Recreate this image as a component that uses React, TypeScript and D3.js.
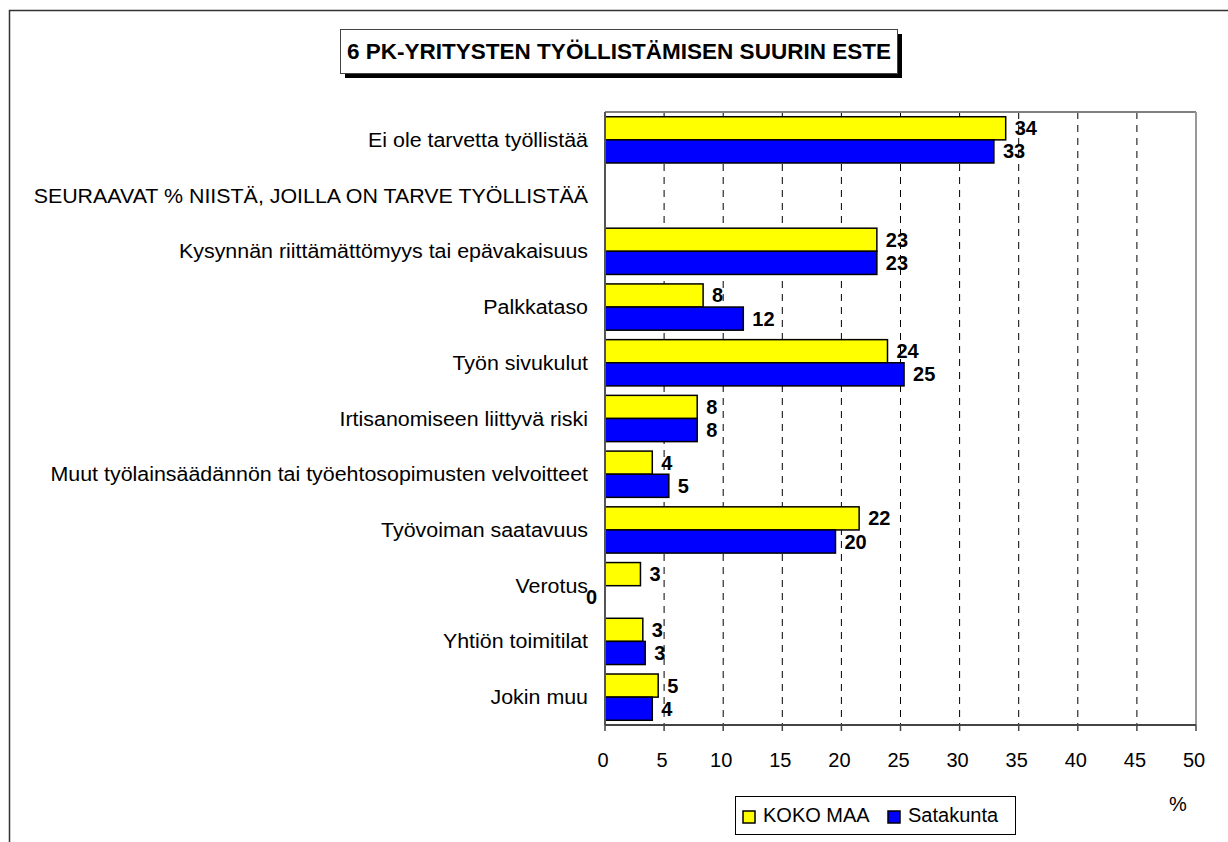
import React from "react";
import * as d3 from "d3";

const categories = [
  "Ei ole tarvetta työllistää",
  "SEURAAVAT % NIISTÄ, JOILLA ON TARVE TYÖLLISTÄÄ",
  "Kysynnän riittämättömyys tai epävakaisuus",
  "Palkkataso",
  "Työn sivukulut",
  "Irtisanomiseen liittyvä riski",
  "Muut työlainsäädännön tai työehtosopimusten velvoitteet",
  "Työvoiman saatavuus",
  "Verotus",
  "Yhtiön toimitilat",
  "Jokin muu",
];
const kokoMaa: (number | null)[] = [33.9, null, 23.0, 8.3, 23.9, 7.8, 4.0, 21.5, 3.0, 3.2, 4.5];
const satakunta: (number | null)[] = [32.9, null, 23.0, 11.7, 25.3, 7.8, 5.4, 19.5, 0, 3.4, 4.0];
const seriesNames = ["KOKO MAA", "Satakunta"];
const seriesColors = ["#FFFF00", "#0000FF"];
const xTicks = [0, 5, 10, 15, 20, 25, 30, 35, 40, 45, 50];
const title = "6 PK-YRITYSTEN TYÖLLISTÄMISEN SUURIN ESTE";
const unitLabel = "%";

const FONT = "'Liberation Sans', Arial, sans-serif";

export default function App() {
  const W = 1228, H = 842;
  const left = 605, right = 1196, top = 112, bottom = 725;
  const x = d3.scaleLinear().domain([0, 50]).range([left, right]);
  const y = d3.scaleBand<string>().domain(categories).range([top, bottom]).padding(0);
  const bw = y.bandwidth();
  const barH = bw * 0.415;
  const series = [kokoMaa, satakunta];

  return (
    <svg width={W} height={H} style={{ position: "absolute", left: 0, top: 0, background: "#fff" }} fontFamily={FONT}>
      {/* outer chart frame */}
      <rect x={9.5} y={10.5} width={W + 20} height={H + 20} fill="#fff" stroke="#333" strokeWidth={1.5} />

      {/* title */}
      <rect x={345} y={34} width={557} height={44} fill="#000" />
      <rect x={340.5} y={29.5} width={557} height={44} fill="#fff" stroke="#444" strokeWidth={1} />
      <text x={619} y={59} textAnchor="middle" fontSize={22.5} fontWeight="bold" fill="#000">{title}</text>

      {/* gridlines */}
      {xTicks.filter(t => t > 0 && t < 50).map(t => (
        <line key={"g" + t} x1={x(t)} x2={x(t)} y1={top} y2={bottom} stroke="#000" strokeWidth={1} strokeDasharray="7,6" />
      ))}
      {/* plot border top & right */}
      <line x1={left} x2={right} y1={top} y2={top} stroke="#808080" strokeWidth={2} />
      <line x1={right} x2={right} y1={top} y2={bottom} stroke="#999" strokeWidth={2} />

      {/* bars */}
      {categories.map((c, i) => (
        <g key={c}>
          {series.map((s, k) => {
            const v = s[i];
            if (v === null) return null;
            const by = (y(c) as number) + bw / 2 - barH + k * barH;
            return (
              <rect key={k} x={x(0)} y={by} width={x(v) - x(0)} height={barH}
                fill={seriesColors[k]} stroke="#000" strokeWidth={1.5} />
            );
          })}
        </g>
      ))}

      {/* axes */}
      <line x1={left} x2={left} y1={top} y2={bottom} stroke="#555" strokeWidth={2} />
      <line x1={left} x2={right} y1={bottom} y2={bottom} stroke="#444" strokeWidth={2} />
      {xTicks.map(t => (
        <g key={"t" + t}>
          <line x1={x(t)} x2={x(t)} y1={bottom} y2={bottom + 6} stroke="#444" strokeWidth={1.5} />
          <text x={x(t) - 2} y={767} textAnchor="middle" fontSize={20} fill="#000">{t}</text>
        </g>
      ))}

      {/* category labels */}
      {categories.map(c => (
        <text key={"c" + c} transform={`translate(588,${(y(c) as number) + bw / 2 + 7}) scale(1.07,1)`}
          textAnchor="end" fontSize={20} fill="#000">{c}</text>
      ))}

      {/* value labels */}
      {categories.map((c, i) => (
        <g key={"v" + c}>
          {series.map((s, k) => {
            const v = s[i];
            if (v === null) return null;
            const cy = (y(c) as number) + bw / 2 - barH + k * barH + barH / 2;
            const zero = v === 0;
            return (
              <text key={k} x={zero ? x(0) - 8 : x(v) + 9} y={cy + 7}
                textAnchor={zero ? "end" : "start"} fontSize={20} fontWeight="bold" fill="#000">
                {Math.round(v)}
              </text>
            );
          })}
        </g>
      ))}

      {/* legend */}
      <rect x={735.5} y={796.5} width={280} height={38} fill="#fff" stroke="#000" strokeWidth={1} />
      {seriesNames.map((n, k) => {
        const sx = k === 0 ? 743 : 888;
        return (
          <g key={n}>
            <rect x={sx} y={811} width={12} height={12} fill={seriesColors[k]} stroke="#000" strokeWidth={1.5} />
            <text x={sx + 20} y={822} fontSize={20} fill="#000">{n}</text>
          </g>
        );
      })}

      <text x={1178} y={811} textAnchor="middle" fontSize={20} fill="#000">{unitLabel}</text>
    </svg>
  );
}
